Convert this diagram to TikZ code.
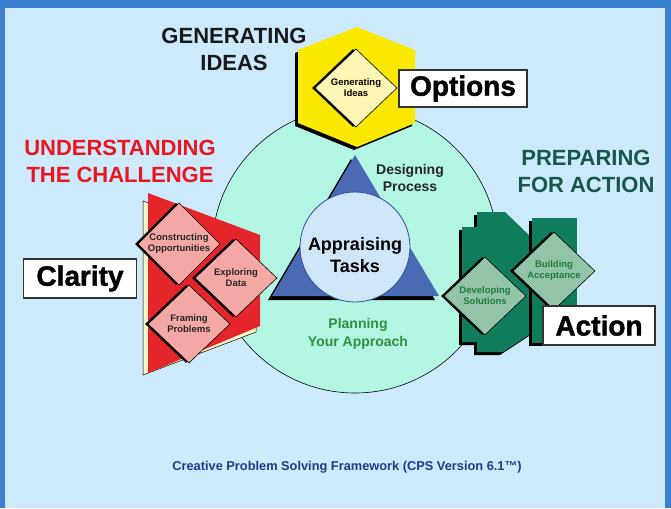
\documentclass[tikz,border=0pt]{standalone}
\usepackage{fontspec}
\setmainfont{Liberation Sans}
\usetikzlibrary{shapes.geometric,shadows}

\definecolor{framblue}{HTML}{3A7FD0}
\definecolor{skyback}{HTML}{CCEAFC}
\definecolor{ringmint}{HTML}{B3F5E3}
\definecolor{hexyellow}{HTML}{FBE800}
\definecolor{ideacream}{HTML}{FDF6B4}
\definecolor{chalred}{HTML}{E4252A}
\definecolor{chaltext}{HTML}{E8161E}
\definecolor{paper}{HTML}{FFF5C6}
\definecolor{chalpink}{HTML}{F4A8A6}
\definecolor{actgreen}{HTML}{0F7D5C}
\definecolor{actsage}{HTML}{92C4A7}
\definecolor{acttext}{HTML}{1F7A3E}
\definecolor{preptext}{HTML}{17584A}
\definecolor{taskblue}{HTML}{4A6BB3}
\definecolor{taskpale}{HTML}{CFE6F8}
\definecolor{taskline}{HTML}{2A4F9A}
\definecolor{plantext}{HTML}{2F8F3F}
\definecolor{captionblue}{HTML}{1F3C88}

\tikzset{
  heading/.style={align=center, font=\fontsize{22}{26.5}\selectfont\bfseries},
  stage/.style={shape=diamond, draw=black, line width=0.6pt, minimum width=82pt,
    minimum height=78pt, inner sep=0pt, align=center,
    font=\fontsize{9.5}{11}\selectfont\bfseries,
    general shadow={fill=black, shadow xshift=-3pt}},
  outcome/.style={draw=black!80, line width=1.2pt, fill=white, inner sep=0pt,
    font=\fontsize{28}{30}\selectfont\bfseries\addfontfeature{FakeBold=1.5}},
  edgeshade/.style={general shadow={fill=black, shadow xshift=-#1, shadow yshift=-#1}},
  edgeshade/.default=3pt,
}

\begin{document}
\begin{tikzpicture}[x=1pt,y=-1pt]
\useasboundingbox (0,0) rectangle (671,508);
% frame
\fill[framblue] (0,0) rectangle (671,508);
\fill[skyback] (5,8) rectangle (665,508);

% the ring
\node (ring) [circle, draw=black, line width=0.6pt, fill=ringmint,
  minimum size=286pt, inner sep=0pt] at (355,250) {};

% generating ideas
\fill[hexyellow, edgeshade] (357,27) -- (415,50) -- (415,123) -- (357,147)
  -- (298,123) -- (298,50) -- cycle;

% understanding the challenge
\filldraw[fill=paper, draw=black, line width=0.5pt] (256,240) -- (143,201)
  -- (143,375) -- (256,332) -- cycle;
\fill[chalred] (148,193) -- (260,235) -- (260,326) -- (148,373) -- cycle;

% preparing for action
\fill[actgreen, edgeshade] (462,227) -- (477,227) -- (477,212) -- (505,212)
  -- (532,238) -- (532,333) -- (503,352) -- (477,352) -- (477,342)
  -- (462,342) -- cycle;
\fill[actgreen, edgeshade] (532,218) -- (577,218) -- (577,343) -- (532,343) -- cycle;

% appraising tasks
\fill[taskblue, edgeshade=4pt] (355,155) -- (439,296) -- (272,296) -- cycle;
\node (hub) [circle, draw=taskline, line width=0.8pt, fill=taskpale,
  minimum size=110pt, inner sep=0pt] at (355,247) {};
\node (hubtext) [align=center, font=\fontsize{18}{22}\selectfont\bfseries]
  at (355,255) {Appraising\\Tasks};
\node (design) [align=center, text=black!85, font=\fontsize{14}{17}\selectfont\bfseries]
  at (410,177.5) {Designing\\Process};
\node (plan) [align=center, text=plantext, font=\fontsize{14}{18}\selectfont\bfseries]
  at (358,334) {Planning\\Your Approach};

% stages
\node (ideas) [stage, fill=ideacream] at (356,88) {Generating\\Ideas};
\node (construct) [stage, fill=chalpink, text=black!85] at (179,244)
  {Constructing\\Opportunities};
\node (explore) [stage, fill=chalpink, text=black!85] at (236,278) {Exploring\\Data};
\node (frame) [stage, fill=chalpink, text=black!85] at (189,324) {Framing\\Problems};
\node (develop) [stage, fill=actsage, text=acttext] at (485,296) {Developing\\Solutions};
\node (accept) [stage, fill=actsage, text=acttext] at (554,271) {Building\\Acceptance};

% outcomes
\node (options) [outcome, minimum width=128pt, minimum height=37pt] at (463,88.5) {Options};
\node (clarity) [outcome, minimum width=113pt, minimum height=39pt] at (80,278.5) {Clarity};
\node (action) [outcome, minimum width=112pt, minimum height=39pt] at (599,325.5) {Action};

% headings
\node (genhead) [heading, text=black!90] at (234,49.5) {GENERATING\\IDEAS};
\node (undhead) [heading, text=chaltext] at (120,161.5) {UNDERSTANDING\\THE CHALLENGE};
\node (prephead) [heading, text=preptext] at (586,171.5) {PREPARING\\FOR ACTION};

\node (caption) [text=captionblue, font=\fontsize{12.8}{15}\selectfont\bfseries]
  at (347,467) {Creative Problem Solving Framework (CPS Version 6.1™)};
\end{tikzpicture}
\end{document}
